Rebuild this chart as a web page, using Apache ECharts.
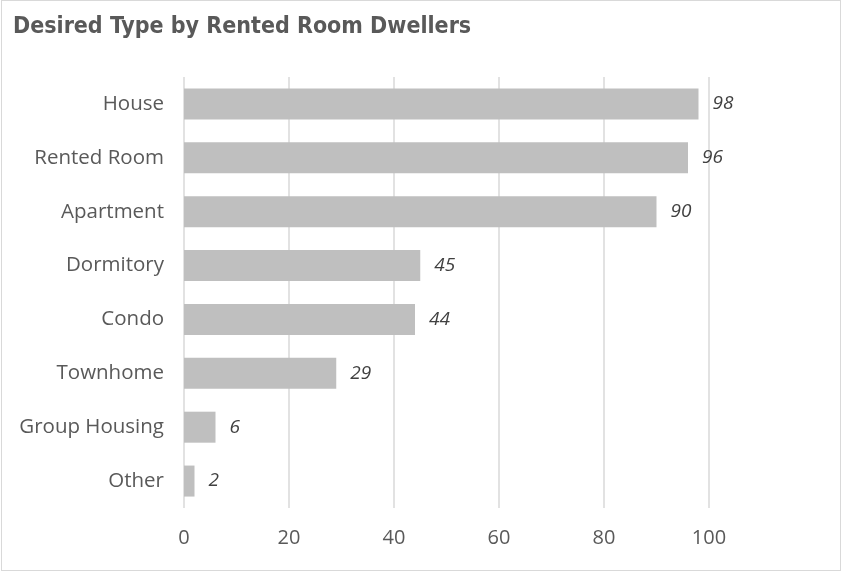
<!DOCTYPE html>
<html>
<head>
<meta charset="utf-8">
<script src="https://cdn.jsdelivr.net/npm/echarts@6/dist/echarts.min.js"></script>
<style>
  html, body { margin: 0; padding: 0; background: #fff; }
  #chart { position: absolute; left: 1px; top: 0; width: 838px; height: 569px; border: 1px solid #D9D9D9; }
</style>
</head>
<body>
<div id="chart"></div>
<script>
// categories listed bottom-to-top for the category axis
var categories = ['Other', 'Group Housing', 'Townhome', 'Condo', 'Dormitory', 'Apartment', 'Rented Room', 'House'];
var values = [2, 6, 29, 44, 45, 90, 96, 98];
var xTicks = [0, 20, 40, 60, 80, 100];

var chartDom = document.getElementById('chart');
var myChart = echarts.init(chartDom);
var option = {
  animation: false,
  title: {
    text: 'Desired Type by Rented Room Dwellers',
    left: 6,
    top: 10,
    textStyle: {
      fontFamily: '"Liberation Sans Narrow", "DejaVu Sans Condensed", "Roboto Condensed", sans-serif',
      fontSize: 23,
      fontWeight: 'bold',
      color: '#595959'
    }
  },
  grid: { left: 182, right: 131, top: 76, bottom: 62, containLabel: false },
  xAxis: {
    type: 'value',
    min: xTicks[0],
    max: xTicks[xTicks.length - 1],
    interval: 20,
    axisLine: { show: false },
    axisTick: { show: false },
    axisLabel: {
      margin: 20,
      color: '#595959',
      fontSize: 20,
      fontFamily: '"Open Sans", sans-serif'
    },
    splitLine: { show: true, lineStyle: { color: '#D9D9D9', width: 1.5 } }
  },
  yAxis: {
    type: 'category',
    data: categories,
    axisLine: { show: false },
    axisTick: { show: false },
    axisLabel: {
      margin: 20,
      color: '#595959',
      fontSize: 20.5,
      fontFamily: '"Open Sans", sans-serif'
    }
  },
  series: [
    {
      type: 'bar',
      data: values,
      barWidth: 31,
      itemStyle: { color: '#BFBFBF' },
      label: {
        show: true,
        position: 'right',
        distance: 14,
        fontStyle: 'italic',
        color: '#404040',
        fontSize: 19,
        fontFamily: '"Open Sans", sans-serif'
      }
    }
  ]
};
option && myChart.setOption(option);
</script>
</body>
</html>
